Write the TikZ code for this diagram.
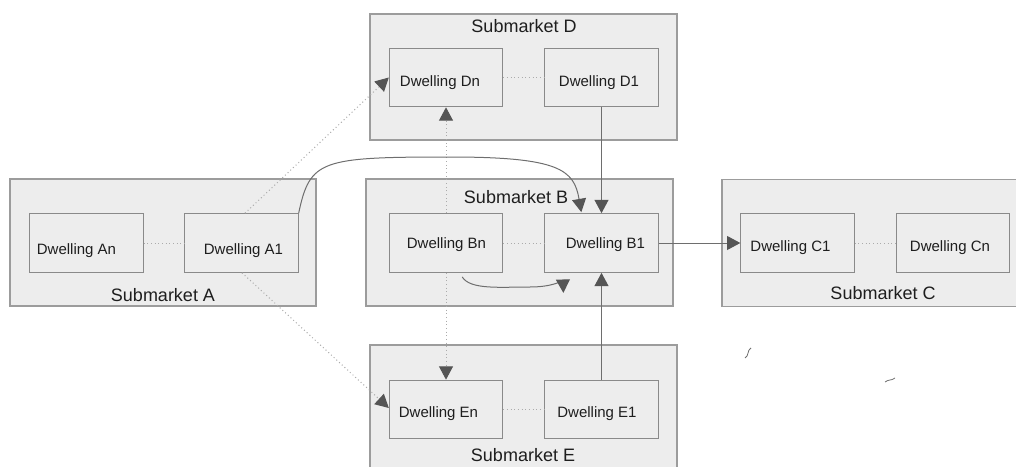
\documentclass[tikz,border=0pt]{standalone}
\usepackage{fontspec}
\setmainfont{Liberation Sans}
\usetikzlibrary{arrows.meta,calc}
\definecolor{panelfill}{HTML}{EDEDED}
\definecolor{panelline}{HTML}{9C9C9C}
\definecolor{boxline}{HTML}{8A8A8A}
\definecolor{wirecol}{HTML}{6E6E6E}
\definecolor{dotcol}{HTML}{ABABAB}
\definecolor{tipgray}{HTML}{555555}
\definecolor{inkgray}{HTML}{1E1E1E}

\begin{document}
\begin{tikzpicture}[x=0.75pt,y=-0.75pt,
  panel/.style={draw=panelline, fill=panelfill, line width=1.1pt,
    minimum width=230.25pt, minimum height=95.25pt, inner sep=0pt},
  dwell/.style={draw=boxline, fill=panelfill, line width=0.75pt,
    minimum width=85pt, minimum height=44pt, inner sep=0pt},
  dtext/.style={font=\fontsize{11.25pt}{13pt}\selectfont, text=inkgray, inner sep=0pt},
  ptitle/.style={font=\fontsize{13.5pt}{16pt}\selectfont, text=inkgray, inner sep=0pt},
  tip/.style={-{Triangle[length=10pt,width=10.5pt,color=tipgray]}},
  wire/.style={draw=wirecol, line width=0.75pt, tip},
  dotwire/.style={draw=dotcol, line width=0.75pt, dotted, tip},
  link/.style={draw=dotcol, line width=0.75pt, dotted},
  scratch/.style={draw=wirecol, line width=0.6pt}]
\useasboundingbox (0,0) rectangle (1016,467);

% submarket panels
\node[panel, minimum width=229.5pt,
  label={[ptitle, shift={(0,52.5)}]center:Submarket A}] (smA) at (163,242.5) {};
\node[panel,
  label={[ptitle, shift={(-3.5,-45.5)}]center:Submarket B}] (smB) at (519.5,242.5) {};
\node[panel, minimum width=231pt,
  label={[ptitle, shift={(7,50.5)}]center:Submarket C}] (smC) at (876,243) {};
\node[panel, minimum height=94.5pt,
  label={[ptitle, shift={(0.5,-51)}]center:Submarket D}] (smD) at (523.5,77) {};
\node[panel,
  label={[ptitle, shift={(-0.5,46.5)}]center:Submarket E}] (smE) at (523.5,408.5) {};

% dwellings
\node[dwell, label={[dtext, shift={(-10,7.7)}]center:Dwelling An}] (An) at (86.5,243) {};
\node[dwell, label={[dtext, shift={(2,7.7)}]center:Dwelling A1}] (A1) at (241.5,243) {};
\node[dwell, label={[dtext, shift={(0.5,2)}]center:Dwelling Bn}] (Bn) at (446,243) {};
\node[dwell, label={[dtext, shift={(4,2)}]center:Dwelling B1}] (B1) at (601.5,243) {};
\node[dwell, label={[dtext, shift={(-7,4.7)}]center:Dwelling C1}] (C1) at (797.5,243) {};
\node[dwell, label={[dtext, shift={(-3,4.7)}]center:Dwelling Cn}] (Cn) at (953,243) {};
\node[dwell, label={[dtext, shift={(-6,5)}]center:Dwelling Dn}] (Dn) at (446,77.5) {};
\node[dwell, label={[dtext, shift={(-2.5,5)}]center:Dwelling D1}] (D1) at (601.5,77.5) {};
\node[dwell, label={[dtext, shift={(-7.5,4)}]center:Dwelling En}] (En) at (446,409.5) {};
\node[dwell, label={[dtext, shift={(-4.5,4)}]center:Dwelling E1}] (E1) at (601.5,409.5) {};

% links inside each submarket
\draw[link] (An) -- (A1);
\draw[link] (Bn) -- (B1);
\draw[link] (C1) -- (Cn);
\draw[link] (Dn) -- (D1);
\draw[link] (En) -- (E1);

% moves between submarkets
\coordinate (a1top) at ($(A1.north)+(3.5,0)$);
\coordinate (a1bot) at ($(A1.south)+(0.5,0)$);
\coordinate (enin) at ($(En.west)+(0,-1.5)$);
\draw[dotwire] (a1top) -- (Dn.west);
\draw[dotwire] (a1bot) -- (enin);
\draw[dotwire] (Bn.north) -- (Dn.south);
\draw[dotwire] (Bn.south) -- (En.north);
\draw[wire] (D1) -- (B1);
\draw[wire] (E1) -- (B1);
\draw[wire] (B1) -- (C1);

\coordinate (hop) at (450,157);
\coordinate (b1in) at ($(B1.north west)+(37,-1)$);
\draw[wire] (A1.north east) .. controls (310,160) and (320,157) .. (hop)
  .. controls (560,157) and (574,170) .. (b1in);

\coordinate (bnout) at ($(Bn.south east)+(-41,4)$);
\coordinate (bnend) at ($(B1.south west)+(19,20)$);
\draw[wire] (bnout) .. controls (470,290) and (500,287) .. (530,287)
  .. controls (552,287) and (563,281) .. (bnend);

% stray pen marks
\draw[scratch] (745,358) .. controls (749,356) and (747,350) .. (751,348);
\draw[scratch] (885,382) .. controls (889,379) and (891,381) .. (895,378);
\end{tikzpicture}
\end{document}
